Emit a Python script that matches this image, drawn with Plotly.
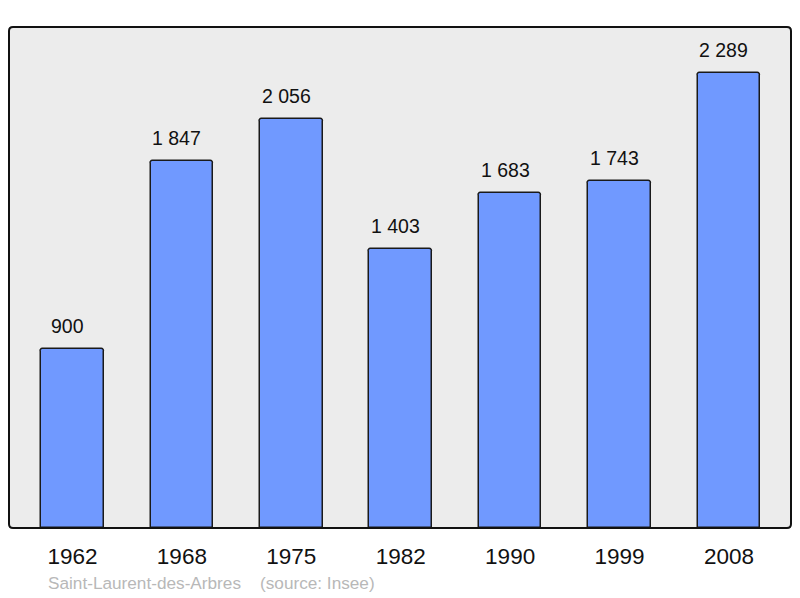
import plotly.graph_objects as go

years = ["1962", "1968", "1975", "1982", "1990", "1999", "2008"]
population = [900, 1847, 2056, 1403, 1683, 1743, 2289]
value_labels = ["900", "1 847", "2 056", "1 403", "1 683", "1 743", "2 289"]
commune = "Saint-Laurent-des-Arbres"
source = "(source: Insee)"

xs = list(range(len(years)))

fig = go.Figure()
fig.add_trace(go.Bar(
    x=xs, y=population, width=0.572,
    marker=dict(color="#7099ff", line=dict(color="#1a1a1a", width=1.5), cornerradius=3),
    hoverinfo="skip",
))

for x, v, t in zip(xs, population, value_labels):
    fig.add_annotation(x=x, y=v, text=t, showarrow=False, xshift=-5, yshift=23,
                       yanchor="middle", font=dict(size=19.5, color="#111111"))

W, H = 800, 598
L, R, T, B = 9, 9, 27, 70
pw, ph = W - L - R, H - T - B
rx, ry = 4 / pw, 4 / ph
path = (f"M {rx},0 L {1-rx},0 Q 1,0 1,{ry} L 1,{1-ry} Q 1,1 {1-rx},1 "
        f"L {rx},1 Q 0,1 0,{1-ry} L 0,{ry} Q 0,0 {rx},0 Z")
fig.add_shape(type="path", path=path, xref="paper", yref="paper",
              line=dict(color="#111111", width=2), layer="above")

fig.add_annotation(x=(46 - L) / pw, y=0, xref="paper", yref="paper", text=commune,
                   showarrow=False, xanchor="left", yanchor="middle", yshift=-55,
                   font=dict(size=17.2, color="#b8b8b8"))
fig.add_annotation(x=(258 - L) / pw, y=0, xref="paper", yref="paper", text=source,
                   showarrow=False, xanchor="left", yanchor="middle", yshift=-55,
                   font=dict(size=17.2, color="#b8b8b8"))

fig.update_layout(
    width=W, height=H,
    margin=dict(l=L, r=R, t=T, b=B),
    paper_bgcolor="white", plot_bgcolor="#ececec",
    font=dict(family="Liberation Sans, Arial, sans-serif"),
    showlegend=False,
    xaxis=dict(range=[-0.58, 6.567], tickvals=xs, ticktext=years, showgrid=False,
               zeroline=False, ticks="outside", ticklen=8, tickcolor="rgba(0,0,0,0)",
               tickfont=dict(size=22.5, color="#111111"), fixedrange=True),
    yaxis=dict(range=[0, 2520], showgrid=False, zeroline=False, showticklabels=False,
               fixedrange=True),
    bargap=0,
)

fig.write_html("out.html", config={"displayModeBar": False},
               post_script="document.body.style.margin='0';document.body.style.overflow='hidden';")
